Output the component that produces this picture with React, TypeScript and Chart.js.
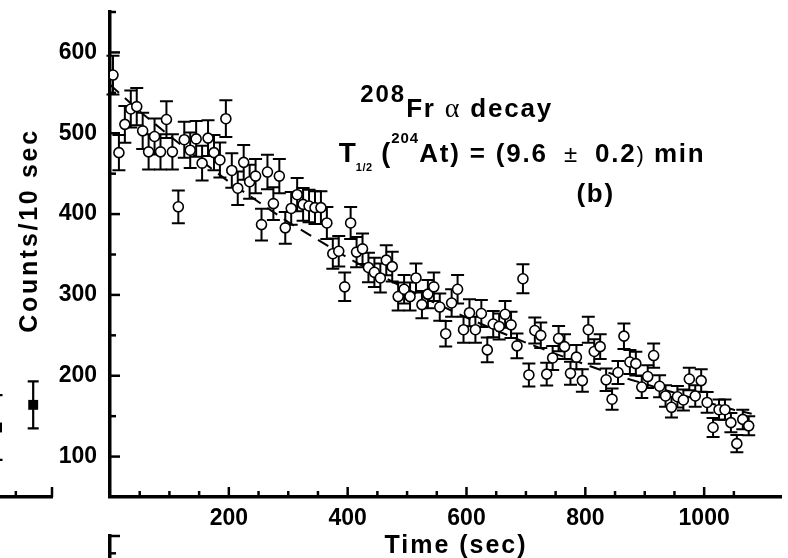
import React, { useEffect, useRef } from 'react';
import { Chart, registerables } from 'chart.js';

Chart.register(...registerables);

// ---- Panel (b) data: 208Fr alpha decay, counts per 10 s bin ----
const timeSec = [
  5, 15, 25, 35, 45, 55, 65, 75, 85, 95,
  105, 115, 125, 135, 145, 155, 165, 175, 185, 195,
  205, 215, 225, 235, 245, 255, 265, 275, 285, 295,
  305, 315, 325, 335, 345, 355, 365, 375, 385, 395,
  405, 415, 425, 435, 445, 455, 465, 475, 485, 495,
  505, 515, 525, 535, 545, 555, 565, 575, 585, 595,
  605, 615, 625, 635, 645, 655, 665, 675, 685, 695,
  705, 715, 725, 735, 745, 755, 765, 775, 785, 795,
  805, 815, 825, 835, 845, 855, 865, 875, 885, 895,
  905, 915, 925, 935, 945, 955, 965, 975, 985, 995,
  1005, 1015, 1025, 1035, 1045, 1055, 1065, 1075,
];
const counts = [
  572, 476, 511, 530, 533, 503, 477, 496, 477, 517,
  477, 409, 492, 479, 493, 463, 494, 476, 467, 518,
  454, 432, 464, 440, 447, 387, 452, 413, 447, 383,
  407, 424, 412, 410, 408, 408, 389, 351, 354, 310,
  389, 353, 357, 334, 328, 321, 343, 335, 298, 307,
  298, 321, 288, 301, 310, 285, 252, 290, 307, 257,
  278, 257, 277, 232, 264, 261, 276, 263, 237, 320,
  201, 256, 250, 202, 222, 246, 236, 203, 223, 194,
  257, 230, 236, 195, 171, 204, 249, 217, 215, 186,
  199, 225, 187, 175, 161, 174, 170, 196, 175, 194,
  167, 136, 158, 158, 142, 116, 146, 138,
];
// Poisson (counting) uncertainty of each bin
const countErrors = counts.map((c) => Math.sqrt(c));

// dashed decay fit
const fitTime = [0, 50, 100, 150, 200, 250, 300, 350, 400, 450, 500, 550, 600, 650, 700, 750, 800, 850, 900, 950, 1000, 1050, 1080];
const fitCounts = [560, 527, 497, 468, 440, 415, 390, 368, 346, 326, 307, 289, 272, 256, 241, 227, 214, 201, 190, 179, 168, 158, 153];

const xTickLabels = [200, 400, 600, 800, 1000];
const yTickLabels = [100, 200, 300, 400, 500, 600];

// ---- Fragment of neighbouring panel (a) visible at the left edge ----
const panelATime = [224, 274];
const panelACounts = [136, 164];
const panelAErrors = [40, 29];

const SANS = "'Liberation Sans', Arial, Helvetica, sans-serif";
const SERIF = "'Liberation Serif', 'Times New Roman', serif";

type Run = { t: string; size: number; bold?: boolean; dy?: number; ls?: number; serif?: boolean };

function drawRuns(ctx: CanvasRenderingContext2D, x: number, y: number, runs: Run[]) {
  let cx = x;
  for (const r of runs) {
    ctx.font = `${r.bold === false ? '' : 'bold '}${r.size}px ${r.serif ? SERIF : SANS}`;
    (ctx as any).letterSpacing = `${r.ls ?? 0}px`;
    ctx.fillText(r.t, cx, y + (r.dy ?? 0));
    cx += ctx.measureText(r.t).width;
  }
  (ctx as any).letterSpacing = '0px';
}

const errorBars = {
  id: 'errorBars',
  beforeDatasetDraw(chart: any, args: any) {
    const ds = chart.data.datasets[args.index];
    if (!ds.errors) return;
    const { ctx, chartArea } = chart;
    const ys = chart.scales.y;
    ctx.save();
    ctx.beginPath();
    ctx.rect(chartArea.left - 10, 0, chartArea.right - chartArea.left + 20, chart.height);
    ctx.clip();
    ctx.strokeStyle = '#000';
    ctx.lineWidth = ds.errWidth || 2;
    const cap = ds.capHalf || 6;
    args.meta.data.forEach((el: any, i: number) => {
      const v = ds.data[i].y;
      const e = ds.errors[i];
      const top = ys.getPixelForValue(v + e);
      const bot = ys.getPixelForValue(v - e);
      const x = el.x;
      ctx.beginPath();
      ctx.moveTo(x, top);
      ctx.lineTo(x, bot);
      ctx.moveTo(x - cap, top);
      ctx.lineTo(x + cap, top);
      ctx.moveTo(x - cap, bot);
      ctx.lineTo(x + cap, bot);
      ctx.stroke();
    });
    ctx.restore();
  },
};

const inwardTicks = {
  id: 'inwardTicks',
  afterDatasetsDraw(chart: any, _args: any, opts: any) {
    const { ctx, chartArea } = chart;
    const xs = chart.scales.x;
    const ys = chart.scales.y;
    ctx.save();
    ctx.strokeStyle = '#000';
    ctx.lineWidth = 2.5;
    for (const t of xs.ticks) {
      const v = t.value;
      if (v % opts.xMinor !== 0 || v === xs.min) continue;
      const len = v % opts.xMajor === 0 ? 10 : 6;
      const px = xs.getPixelForValue(v);
      ctx.beginPath();
      ctx.moveTo(px, chartArea.bottom);
      ctx.lineTo(px, chartArea.bottom - len);
      ctx.stroke();
    }
    for (const t of ys.ticks) {
      const v = t.value;
      if (v % opts.yMinor !== 0 || v === ys.min) continue;
      const len = v % opts.yMajor === 0 ? 10 : 6;
      const py = ys.getPixelForValue(v);
      ctx.beginPath();
      ctx.moveTo(chartArea.left, py);
      ctx.lineTo(chartArea.left + len, py);
      ctx.stroke();
    }
    ctx.restore();
  },
};

const labelsPlugin = {
  id: 'labelsPlugin',
  afterDraw(chart: any) {
    const { ctx, chartArea } = chart;
    const xs = chart.scales.x;
    const ys = chart.scales.y;
    ctx.save();
    ctx.fillStyle = '#000';
    ctx.textBaseline = 'alphabetic';
    ctx.textAlign = 'left';

    // annotation, anchored in data coordinates
    drawRuns(ctx, xs.getPixelForValue(421), ys.getPixelForValue(520), [
      { t: '208', size: 24, dy: -15, ls: 2 },
      { t: 'Fr ', size: 26, ls: 1.8 },
      { t: 'α', size: 28, bold: false, serif: true, ls: 1.8 },
      { t: ' decay', size: 26, ls: 1.8 },
    ]);
    drawRuns(ctx, xs.getPixelForValue(385), ys.getPixelForValue(464), [
      { t: 'T', size: 28, ls: 0 },
      { t: '1/2', size: 11, dy: 9, ls: 0.5 },
      { t: ' (', size: 27, ls: 1 },
      { t: '204', size: 15, dy: -19, ls: 1 },
      { t: 'At) = (9.6', size: 26, ls: 1.8 },
      { t: '  ±  ', size: 24, bold: false, ls: 1.5 },
      { t: '0.2', size: 26, ls: 1.8 },
      { t: ')', size: 22, bold: false, ls: 1 },
      { t: ' min', size: 26, ls: 1.8 },
    ]);
    drawRuns(ctx, xs.getPixelForValue(785), ys.getPixelForValue(415), [
      { t: '(b)', size: 26, ls: 1.8 },
    ]);

    // axis titles
    ctx.textAlign = 'center';
    ctx.font = `bold 25px ${SANS}`;
    (ctx as any).letterSpacing = '2px';
    ctx.fillText('Time (sec)', chartArea.left + 346, chart.height - 5.5);

    ctx.save();
    ctx.translate(37, chartArea.top + 218.5);
    ctx.rotate(-Math.PI / 2);
    (ctx as any).letterSpacing = '2.7px';
    ctx.fillText('Counts/10 sec', 0, 0);
    ctx.restore();
    (ctx as any).letterSpacing = '0px';
    ctx.restore();
  },
};

const tickFont = { family: SANS, size: 23, weight: 'bold' as const };

function linearAxis(min: number, max: number, step: number, labels: number[] | null, isX: boolean, padding: number, boxSize: number) {
  return {
    type: 'linear' as const,
    min,
    max,
    border: { display: true, color: '#000', width: 3.5 },
    grid: { display: false, drawTicks: false, tickLength: 0 },
    ticks: {
      display: !!labels,
      stepSize: step,
      autoSkip: false,
      maxRotation: 0,
      minRotation: 0,
      padding,
      color: '#000',
      font: tickFont,
      callback: (v: number) => (labels && labels.includes(v) ? String(v) : ''),
    },
    afterFit: (s: any) => {
      if (isX) s.height = boxSize;
      else s.width = boxSize;
      s.paddingTop = 0;
      s.paddingBottom = 0;
      s.paddingLeft = 0;
      s.paddingRight = 0;
    },
  };
}

function baseOptions(scales: any, tickOpts: any, padRight = 0) {
  return {
    animation: false,
    responsive: false,
    events: [],
    layout: { padding: { top: 12, right: padRight, left: 0, bottom: 0 } },
    plugins: {
      legend: { display: false },
      tooltip: { enabled: false },
      title: { display: false },
      inwardTicks: tickOpts,
    },
    scales,
  };
}

export default function App() {
  const mainRef = useRef<HTMLCanvasElement>(null);
  const aRef = useRef<HTMLCanvasElement>(null);
  const cRef = useRef<HTMLCanvasElement>(null);

  useEffect(() => {
    const charts: Chart[] = [];

    charts.push(
      new Chart(aRef.current as HTMLCanvasElement, {
        type: 'scatter',
        data: {
          datasets: [
            {
              label: 'panel a',
              data: panelATime.map((x, i) => ({ x, y: panelACounts[i] })),
              errors: panelAErrors,
              capHalf: 5.5,
              errWidth: 2.2,
              pointStyle: 'rect',
              pointRadius: 7,
              pointBorderWidth: 0,
              pointBackgroundColor: '#000',
              pointBorderColor: '#000',
            } as any,
          ],
        },
        options: baseOptions(
          {
            x: linearAxis(0, 300, 50, null, true, 8, 61),
            y: linearAxis(50, 650, 50, null, false, 13, 110),
          },
          { xMinor: 50, xMajor: 100, yMinor: 50, yMajor: 100 },
          2
        ) as any,
        plugins: [errorBars, inwardTicks],
      })
    );

    charts.push(
      new Chart(cRef.current as HTMLCanvasElement, {
        type: 'scatter',
        data: { datasets: [{ label: 'panel c', data: [] }] },
        options: baseOptions(
          {
            x: linearAxis(0, 1130, 50, null, true, 8, 61),
            y: linearAxis(0, 1400, 50, null, false, 13, 110),
          },
          { xMinor: 50, xMajor: 200, yMinor: 50, yMajor: 100 }
        ) as any,
        plugins: [inwardTicks],
      })
    );

    charts.push(
      new Chart(mainRef.current as HTMLCanvasElement, {
        type: 'scatter',
        data: {
          datasets: [
            {
              label: 'fit',
              data: fitTime.map((x, i) => ({ x, y: fitCounts[i] })),
              showLine: true,
              borderColor: '#000',
              borderWidth: 2,
              borderDash: [12, 8],
              pointRadius: 0,
              pointHoverRadius: 0,
              fill: false,
              order: 2,
            },
            {
              label: '208Fr',
              data: timeSec.map((x, i) => ({ x, y: counts[i] })),
              errors: countErrors,
              capHalf: 6.5,
              errWidth: 2,
              pointRadius: 5,
              pointBorderWidth: 1.6,
              pointBorderColor: '#000',
              pointBackgroundColor: '#fff',
              order: 1,
            } as any,
          ],
        },
        options: baseOptions(
          {
            x: linearAxis(0, 1130, 50, xTickLabels, true, 8, 61),
            y: linearAxis(50, 650, 50, yTickLabels, false, 13, 110),
          },
          { xMinor: 50, xMajor: 200, yMinor: 50, yMajor: 100 }
        ) as any,
        plugins: [errorBars, inwardTicks, labelsPlugin],
      })
    );

    return () => charts.forEach((c) => c.destroy());
  }, []);

  return (
    <div
      style={{
        position: 'fixed',
        left: 0,
        top: 0,
        width: 788,
        height: 558,
        overflow: 'hidden',
        background: '#fff',
      }}
    >
      <canvas ref={aRef} width={334} height={558} style={{ position: 'absolute', left: -275, top: 0, display: 'block' }} />
      <canvas ref={cRef} width={788} height={558} style={{ position: 'absolute', left: 0, top: 524, display: 'block' }} />
      <canvas ref={mainRef} width={788} height={558} style={{ position: 'absolute', left: 0, top: 0, display: 'block' }} />
    </div>
  );
}
